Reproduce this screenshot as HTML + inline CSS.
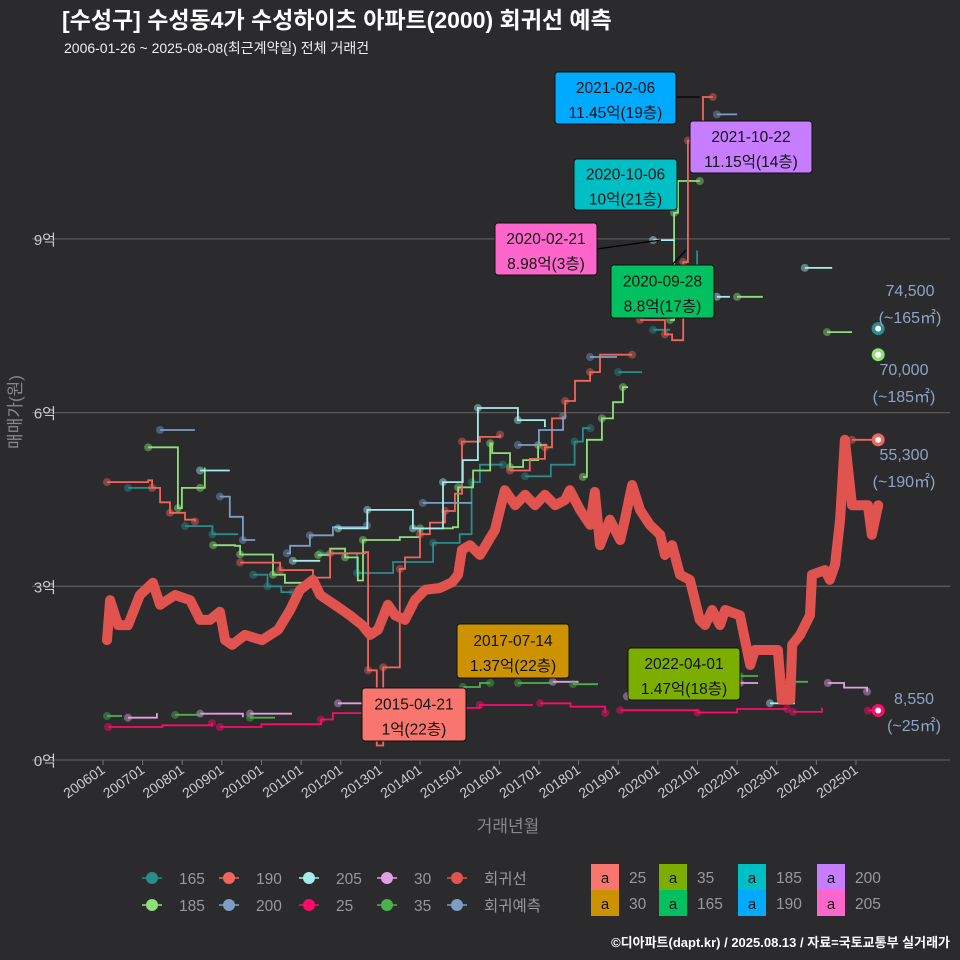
<!DOCTYPE html>
<html><head><meta charset="utf-8"><style>
body{margin:0;background:#2b2b2d;}
svg{display:block;font-family:"Liberation Sans","Noto Sans CJK KR",sans-serif;}
</style></head><body>
<svg id="chart" width="960" height="960" viewBox="0 0 960 960">
<rect width="960" height="960" fill="#2b2b2d"/>
<text x="62" y="28" fill="#fff" font-size="23" font-weight="bold">[수성구] 수성동4가 수성하이츠 아파트(2000) 회귀선 예측</text>
<text x="64" y="53" fill="#eee" font-size="14">2006-01-26 ~ 2025-08-08(최근계약일) 전체 거래건</text>
<g id="grid"></g>
<g id="marks"></g>
<g id="ann"></g>
<text transform="translate(21,412) rotate(-90)" text-anchor="middle" fill="#888" font-size="17">매매가(원)</text>
<text x="508" y="832" text-anchor="middle" fill="#888" font-size="17">거래년월</text>
<g id="legend"></g>
<text x="950" y="947" text-anchor="end" fill="#fff" font-size="13" font-weight="bold">©디아파트(dapt.kr) / 2025.08.13 / 자료=국토교통부 실거래가</text>
</svg>
<script>
const yTicks=[0,3,6,9];
const yTickLabels=["0억","3억","6억","9억"];
const xTickYears=[2006,2007,2008,2009,2010,2011,2012,2013,2014,2015,2016,2017,2018,2019,2020,2021,2022,2023,2024,2025];
const xTickLabels=["200601","200701","200801","200901","201001","201101","201201","201301","201401","201501","201601","201701","201801","201901","202001","202101","202201","202301","202401","202501"];
// regression line: times and values (억)
const regT=[2006.10,2006.18,2006.38,2006.63,2006.93,2007.26,2007.44,2007.82,2008.20,2008.45,2008.70,2008.95,2009.08,2009.26,2009.58,2010.01,2010.42,2010.72,2010.97,2011.30,2011.48,2011.85,2012.23,2012.54,2012.74,2012.94,2013.19,2013.37,2013.62,2013.87,2014.13,2014.50,2014.81,2014.96,2015.06,2015.26,2015.51,2015.89,2016.14,2016.40,2016.65,2016.90,2017.15,2017.41,2017.66,2017.78,2018.04,2018.29,2018.41,2018.54,2018.79,2019.05,2019.17,2019.35,2019.55,2019.80,2020.06,2020.18,2020.36,2020.56,2020.81,2021.06,2021.19,2021.37,2021.57,2021.70,2022.07,2022.33,2022.45,2023.03,2023.13,2023.34,2023.39,2023.59,2023.84,2023.89,2024.22,2024.34,2024.47,2024.60,2024.72,2024.90,2025.30,2025.40,2025.56];
const regV=[2.07,2.76,2.33,2.33,2.85,3.06,2.68,2.85,2.76,2.42,2.42,2.56,2.07,1.99,2.16,2.07,2.25,2.59,2.94,3.11,2.85,2.68,2.50,2.33,2.16,2.25,2.68,2.50,2.42,2.76,2.94,2.97,3.07,3.20,3.63,3.71,3.54,3.97,4.66,4.40,4.58,4.40,4.58,4.40,4.49,4.66,4.32,4.06,4.63,3.71,4.15,3.80,4.15,4.75,4.32,4.06,3.89,3.54,3.71,3.20,3.11,2.42,2.33,2.59,2.33,2.59,2.50,1.64,1.90,1.90,1.04,1.04,1.99,2.16,2.50,3.20,3.28,3.11,3.37,4.15,5.53,4.40,4.40,3.89,4.40];
// series segments: [time, 억]
const s165=[[[2006.63,4.7],[2007.36,4.7]],[[2008.07,4.04],[2008.75,4.04],[2008.76,3.9],[2009.41,3.9]],[[2009.79,3.2],[2010.14,3.2],[2010.15,3.0],[2010.5,2.9],[2010.79,2.9]],[[2011.48,3.57],[2012.23,3.57],[2012.41,3.23],[2013.32,3.42],[2014.33,3.75],[2015.0,3.9],[2015.3,4.8],[2015.51,5.1],[2016.09,5.1]],[[2016.65,4.9],[2017.3,5.1],[2017.9,5.5],[2018.11,5.73],[2018.3,5.73]],[[2019.0,6.7],[2019.6,6.7]],[[2019.88,7.43],[2020.31,7.43]],[[2020.89,8.4],[2020.99,8.8]]];
const s185=[[[2007.14,5.4],[2007.82,5.4],[2007.89,4.35],[2007.99,4.7],[2008.45,4.7],[2008.57,5.05]],[[2008.78,3.71],[2009.33,3.7],[2009.46,3.55],[2010.21,3.55],[2010.29,3.2],[2010.59,3.06],[2011.22,3.06]],[[2011.43,3.54],[2011.73,3.65],[2012.11,3.5],[2012.43,3.1],[2012.56,3.8],[2013.49,3.85],[2014.0,4.0],[2014.83,4.02],[2014.96,4.71],[2015.34,5.0],[2015.77,5.47],[2015.82,5.3],[2016.27,5.06],[2016.6,5.18],[2016.98,5.44],[2017.2,5.44]],[[2018.11,4.89],[2018.21,5.53],[2018.59,5.9],[2018.87,6.18],[2019.12,6.44],[2019.25,6.44]],[[2020.31,7.6],[2020.38,7.6],[2020.41,9.45],[2020.51,10.0],[2021.06,10.0]],[[2022.0,8.0],[2022.65,8.0]],[[2024.27,7.39],[2024.9,7.39]]];
const s190=[[[2006.10,4.8],[2007.14,4.83],[2007.24,4.7],[2007.44,4.45],[2007.69,4.27],[2008.07,4.15],[2008.32,4.12]],[[2009.46,3.41],[2010.34,3.41],[2010.47,3.28],[2011.30,3.15],[2011.73,3.57],[2012.61,3.59],[2012.69,1.55],[2012.91,0.25],[2013.07,1.6],[2013.37,1.6],[2013.49,3.3],[2013.62,3.5],[2014.00,3.9],[2014.25,4.1],[2014.63,4.3],[2014.88,4.6],[2015.06,5.5],[2015.51,5.58],[2016.02,5.62]],[[2016.27,5.0],[2016.77,5.2],[2017.15,5.4],[2017.33,5.9],[2017.66,6.2],[2017.91,6.55],[2018.29,6.7],[2018.54,7.0],[2019.35,7.0]],[[2019.55,7.6],[2020.06,7.6],[2020.18,7.35],[2020.36,7.25],[2020.64,8.6],[2020.71,8.6],[2020.76,10.7],[2021.14,11.45],[2021.39,11.45]],[[2024.90,5.53],[2025.56,5.53]]];
const s200=[[[2007.44,5.7],[2008.32,5.7]],[[2008.95,4.55],[2009.2,4.2],[2009.53,3.8],[2009.84,3.8]],[[2010.64,3.57],[2010.72,3.7],[2011.22,3.88],[2011.8,4.02],[2012.66,4.05]],[[2014.07,4.44],[2015.31,4.44]],[[2016.47,5.44],[2017.0,5.7],[2017.61,5.94]],[[2018.29,6.96],[2018.97,6.96]],[[2021.49,11.15],[2022.0,11.15]]];
const s205=[[[2008.45,5.0],[2009.2,5.0]],[[2010.79,3.44],[2011.48,3.44]],[[2011.93,4.0],[2012.66,4.0],[2012.67,4.32],[2013.57,4.32],[2013.82,4.0],[2014.33,4.0],[2014.58,4.8],[2015.08,5.18],[2015.46,6.08],[2016.19,6.08],[2016.47,5.87],[2017.15,5.75]],[[2019.88,8.98],[2020.43,8.98]],[[2021.49,8.0],[2021.82,8.0]],[[2023.71,8.5],[2024.4,8.5]],[[2022.83,0.98],[2023.46,0.98]]];
const s25=[[[2006.13,0.57],[2007.5,0.6],[2008.75,0.64]],[[2008.95,0.57],[2010.0,0.62],[2011.5,0.7],[2011.8,0.81],[2012.66,0.83],[2014.0,0.9],[2015.51,0.95],[2016.85,0.95]],[[2017.03,0.98],[2017.8,0.92],[2018.67,0.81]],[[2019.05,0.86],[2020.43,0.86],[2021.0,0.82],[2022.0,0.88],[2023.26,0.88]],[[2023.41,0.83],[2024.14,0.9]],[[2025.3,0.855],[2025.56,0.855]]];
const s30=[[[2006.63,0.73],[2007.36,0.81]],[[2008.45,0.8],[2009.53,0.74]],[[2009.71,0.8],[2010.77,0.8]],[[2011.93,0.98],[2012.54,0.98]],[[2017.35,1.35],[2018.0,1.35]],[[2019.22,1.1],[2019.6,1.1]],[[2022.07,1.33],[2022.53,1.33]],[[2024.29,1.33],[2024.7,1.25],[2025.28,1.18]]];
const s35=[[[2006.10,0.76],[2006.48,0.76]],[[2007.82,0.78],[2008.5,0.78]],[[2009.71,0.73],[2010.34,0.73]],[[2015.08,1.26],[2015.51,1.33],[2015.77,1.33]],[[2016.47,1.33],[2017.35,1.33]],[[2017.86,1.31],[2018.49,1.31]],[[2019.6,1.33],[2019.88,1.33]],[[2022.07,1.45],[2022.53,1.45]],[[2023.16,1.35],[2023.79,1.35]]];
const seriesList=[[s165,"#2a8c8c"],[s185,"#8ee07a"],[s190,"#f0665c"],[s200,"#7f9cc6"],[s205,"#a6ecec"],[s25,"#ff0a6a"],[s30,"#e2a0e2"],[s35,"#4cb04c"]];
const endT=[2025.56,2025.56,2025.56,2025.56];
const endV=[7.45,7.0,5.53,0.855];
const endColors=["#2a8c8c","#8ee07a","#f0665c","#ff0a6a"];
const endLabels=["74,500","70,000","55,300","8,550"];
const endAreas=["(~165㎡)","(~185㎡)","(~190㎡)","(~25㎡)"];

const NS="http://www.w3.org/2000/svg";
const X=t=>103+(t-2006)*39.63;
const Y=v=>760-v*57.9;
function mk(tag,attrs,parent){const e=document.createElementNS(NS,tag);for(const k in attrs)e.setAttribute(k,attrs[k]);parent.appendChild(e);return e;}
const grid=document.getElementById('grid'),marks=document.getElementById('marks'),ann=document.getElementById('ann'),leg=document.getElementById('legend');

yTicks.forEach((v,i)=>{
  const l=mk('line',{x1:32,x2:950,y1:Y(v),y2:Y(v),stroke:'#5a5a5c','stroke-width':1.3},grid);
  
  
  const t=mk('text',{x:56,y:Y(v)+6,'text-anchor':'end',fill:'#ccc','font-size':15},grid);
  t.textContent=yTickLabels[i];
  
  
});
xTickYears.forEach((yr,i)=>{
  const x=X(yr);
  const tk=mk('line',{x1:x,x2:x,y1:760,y2:765,stroke:'#777'},grid);
  
  
  const t=mk('text',{x:x+3,y:772,'text-anchor':'end',fill:'#ccc','font-size':14,transform:`rotate(-35 ${x+3} 772)`},grid);
  t.textContent=xTickLabels[i];
  
  
});

// series (step lines)
seriesList.forEach(([segs,col])=>{
  segs.forEach(seg=>{
    let d='';
    seg.forEach((p,i)=>{
      const x=X(p[0]).toFixed(1),y=Y(p[1]).toFixed(1);
      if(i===0)d+='M'+x+','+y;
      else d+='H'+x+'V'+y;
    });
    const pth=mk('path',{d,fill:'none',stroke:col,'stroke-width':1.8},marks);
    
    
    seg.forEach((p,i)=>{
      if(i%2===0){
        const c=mk('circle',{cx:X(p[0]),cy:Y(p[1]),r:4,fill:col,opacity:0.45},marks);
        
        
      }
    });
  });
});
// regression
let rd='';
regT.forEach((t,i)=>{rd+=(i?'L':'M')+X(t).toFixed(1)+','+Y(regV[i]).toFixed(1);});
const reg=mk('path',{d:rd,fill:'none',stroke:'#e0534f','stroke-width':10,'stroke-linejoin':'round','stroke-linecap':'round'},marks);



// end markers + labels
endT.forEach((t,i)=>{
  const c=mk('circle',{cx:X(t),cy:Y(endV[i]),r:6.5,fill:endColors[i]},marks);
  
  
  const c2=mk('circle',{cx:X(t),cy:Y(endV[i]),r:3,fill:'#fff'},marks);
  
  
});
const lblPos=[[910,296],[904,375],[904,460],[914,704]];
endLabels.forEach((s,i)=>{
  const t=mk('text',{x:lblPos[i][0],y:lblPos[i][1],'text-anchor':'middle',fill:'#8fa3c9','font-size':16},ann);
  t.textContent=s;
  
  
  const t2=mk('text',{x:lblPos[i][0],y:lblPos[i][1]+27,'text-anchor':'middle',fill:'#8fa3c9','font-size':16},ann);
  t2.textContent=endAreas[i];
  
  
});

// annotation boxes
const boxes=[
 [555,72,121,52,'#00aaff','2021-02-06','11.45억(19층)',[676,97,700,97]],
 [690,121,122,52,'#c77dff','2021-10-22','11.15억(14층)',null],
 [574,159,103,51,'#00bfc4','2020-10-06','10억(21층)',null],
 [495,223,102,52,'#ff66cc','2020-02-21','8.98억(3층)',[597,249,661,240]],
 [611,265,103,53,'#00c060','2020-09-28','8.8억(17층)',[672,265,686,250]],
 [457,624,112,54,'#cc9200','2017-07-14','1.37억(22층)',null],
 [628,648,112,52,'#7cae00','2022-04-01','1.47억(18층)',null],
 [362,688,104,53,'#f8766d','2015-04-21','1억(22층)',null]];
boxes.forEach(b=>{
  if(b[7]){const l=mk('line',{x1:b[7][0],y1:b[7][1],x2:b[7][2],y2:b[7][3],stroke:'#000','stroke-width':1.3},ann);
    
    }
  const r=mk('rect',{x:b[0],y:b[1],width:b[2],height:b[3],rx:3,fill:b[4],stroke:'#111','stroke-width':1},ann);
  
  
  const t1=mk('text',{x:b[0]+b[2]/2,y:b[1]+b[3]/2-5,'text-anchor':'middle',fill:'#111','font-size':15.5},ann);
  t1.textContent=b[5];
  
  
  const t2=mk('text',{x:b[0]+b[2]/2,y:b[1]+b[3]/2+20,'text-anchor':'middle',fill:'#111','font-size':15.5},ann);
  t2.textContent=b[6];
  
  
});

// legend
const legItems=[[152,878,'#2a8c8c','165'],[229,878,'#f0665c','190'],[309,878,'#a6ecec','205'],[387,878,'#e2a0e2','30'],[457,878,'#e0534f','회귀선'],
 [152,905,'#8ee07a','185'],[229,905,'#7f9cc6','200'],[309,905,'#ff0a6a','25'],[387,905,'#4cb04c','35'],[457,905,'#7f9cc6','회귀예측']];
legItems.forEach(it=>{
  const l=mk('line',{x1:it[0]-10,x2:it[0]+10,y1:it[1],y2:it[1],stroke:it[2],'stroke-width':1.5},leg);
  
  
  const c=mk('circle',{cx:it[0],cy:it[1],r:6,fill:it[2]},leg);
  
  
  const t=mk('text',{x:it[0]+27,y:it[1]+6,fill:'#999','font-size':15.5},leg);
  t.textContent=it[3];
  
  
});
const fillItems=[[591,864,'#f8766d','25'],[591,890,'#cc9200','30'],[659,864,'#7cae00','35'],[659,890,'#00c060','165'],[738,864,'#00bfc4','185'],[738,890,'#00aaff','190'],[817,864,'#c77dff','200'],[817,890,'#ff66cc','205']];
fillItems.forEach(it=>{
  const r=mk('rect',{x:it[0],y:it[1],width:28,height:26,fill:it[2]},leg);
  
  
  const a=mk('text',{x:it[0]+14,y:it[1]+19,'text-anchor':'middle',fill:'#111','font-size':15},leg);
  a.textContent='a';
  
  
  const t=mk('text',{x:it[0]+38,y:it[1]+19,fill:'#999','font-size':15.5},leg);
  t.textContent=it[3];
  
  
});
</script>
</body></html>
